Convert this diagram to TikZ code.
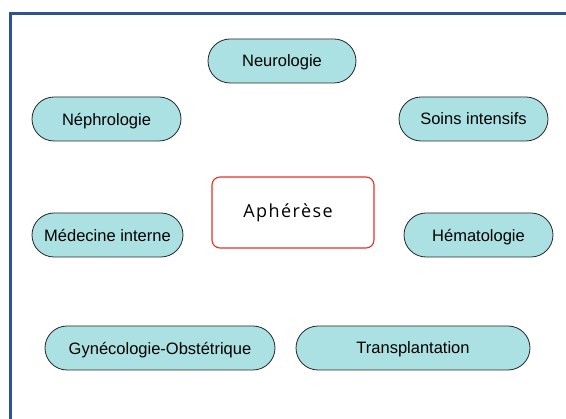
\documentclass[tikz,border=0pt]{standalone}
\usepackage{fontspec}
\setmainfont{Liberation Sans}
\newfontfamily\hubfont[LetterSpace=8]{Open Sans}
\usetikzlibrary{shapes.misc}
\definecolor{framecol}{HTML}{2E5490}
\definecolor{deptfill}{HTML}{ABE1E3}
\definecolor{hubred}{HTML}{E8302A}
\tikzset{
  dept/.style={rounded rectangle, draw=black!85, line width=0.8pt, fill=deptfill,
    minimum height=44pt, inner sep=0pt, text depth=0pt,
    font=\fontsize{16.5}{18}\selectfont},
  hub/.style={draw=hubred, line width=1.1pt, rounded corners=8pt, fill=white,
    minimum width=162pt, minimum height=71pt, inner sep=0pt,
    font=\hubfont\fontsize{18}{20}\selectfont},
  frameline/.style={draw=framecol, line width=3pt}
}

\begin{document}
\begin{tikzpicture}[x=1pt, y=-1pt]
  \useasboundingbox (0,0) rectangle (566,419);
  \fill[white] (0,0) rectangle (566,419);
  \coordinate (frameTR) at (566,13.5);
  \coordinate (frameTL) at (10.5,13.5);
  \coordinate (frameBL) at (10.5,419);
  \draw[frameline] (frameTR) -- (frameTL) -- (frameBL);

  \node[hub] (apherese) at (293,212.5) {Aphérèse\kern10pt};

  \node[dept, minimum width=148pt] (neuro) at (282,61) {Neurologie};
  \node[dept, minimum width=149pt] (nephro) at (106.5,119) {Néphrologie};
  \node[dept, minimum width=149pt] (soins) at (473.5,119) {Soins intensifs};
  \node[dept, minimum width=151pt] (medint) at (107.5,235) {Médecine interne};
  \node[dept, minimum width=149pt] (hemato) at (478.5,235) {Hématologie};
  \node[dept, minimum width=230pt] (gyneco) at (160,348) {Gynécologie-Obstétrique};
  \node[dept, minimum width=234pt] (transpl) at (413,348) {Transplantation};
\end{tikzpicture}
\end{document}
